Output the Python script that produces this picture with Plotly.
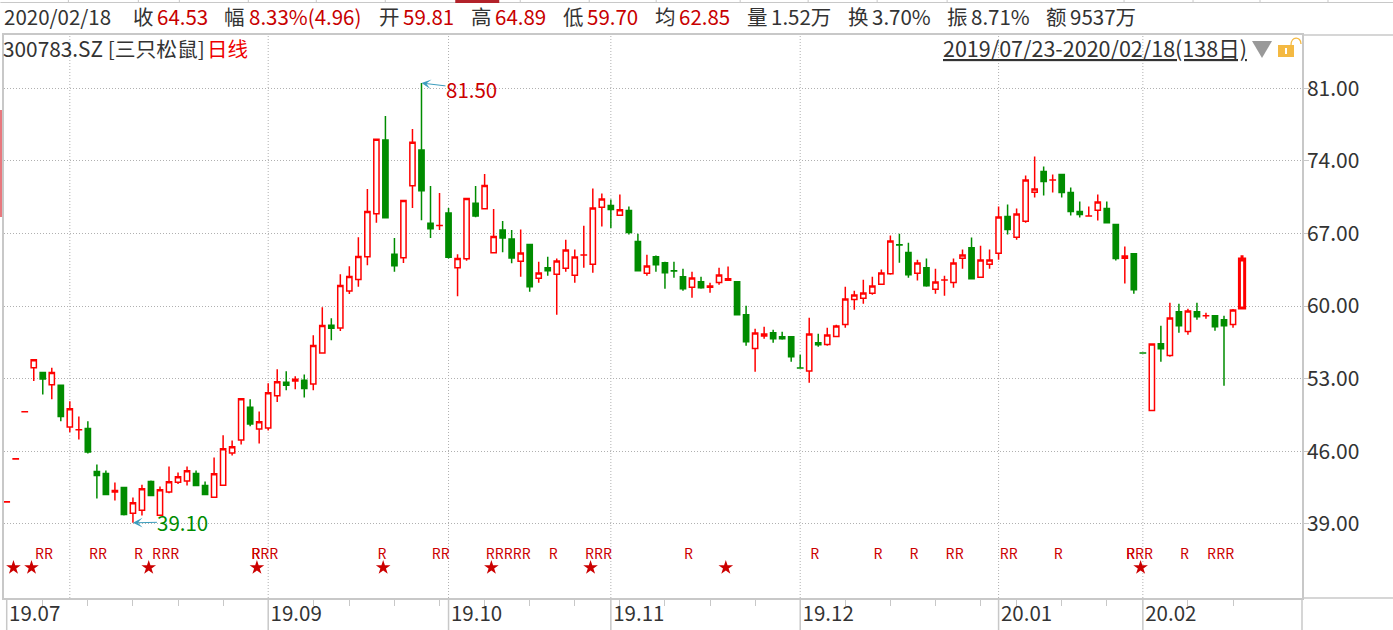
import plotly.graph_objects as go

# ---------- data ----------
opens = [41.11,45.26,49.80,54.06,53.58,52.42,52.35,48.33,48.06,48.20,44.05,43.86,42.06,42.51,40.03,40.32,43.09,39.84,42.06,43.02,
 43.12,43.86,42.70,41.57,42.73,45.82,47.08,50.23,48.14,48.23,51.36,52.64,52.77,52.84,52.49,55.48,58.15,57.89,61.46,62.56,
 64.74,68.89,76.01,65.00,64.65,71.60,75.04,67.99,67.76,68.96,63.68,64.55,69.92,69.38,65.13,67.32,66.45,64.31,65.92,62.67,
 63.70,63.06,63.64,62.96,64.91,64.02,69.52,69.68,68.75,69.20,66.21,63.15,64.76,64.18,63.39,62.83,61.80,62.35,61.80,62.28,
 62.48,62.35,59.16,55.91,57.10,57.43,57.04,57.04,54.03,53.73,56.46,56.30,57.07,58.23,60.64,60.74,61.22,62.09,63.12,65.90,
 65.15,63.15,63.70,61.61,62.50,62.28,64.60,65.63,62.77,64.02,65.08,68.62,66.63,68.17,70.97,72.97,72.15,72.68,70.94,69.11,
 68.68,69.23,69.40,67.85,64.60,65.05,55.47,49.93,56.36,55.24,59.45,57.55,59.45,59.06,59.07,58.68,58.23,59.81]
highs = [41.12,45.27,49.81,54.83,53.58,54.06,52.42,50.81,49.36,48.88,44.73,44.15,42.99,42.57,41.54,42.76,43.18,42.60,44.53,43.95,
 44.53,44.15,43.09,45.40,47.53,47.04,51.07,51.00,49.84,52.55,53.90,53.70,53.22,53.41,57.18,59.89,58.82,63.07,63.84,66.64,
 71.28,76.07,78.32,66.55,70.18,77.07,81.50,71.56,70.89,69.44,65.00,70.37,71.56,72.72,69.35,68.19,67.32,67.37,65.92,64.28,
 64.76,64.57,66.40,65.44,67.75,71.33,70.84,70.26,70.75,69.59,66.98,64.95,64.86,64.28,64.28,63.60,63.31,62.83,62.25,63.70,
 63.80,62.35,60.03,57.81,58.01,57.72,57.52,57.04,55.30,58.87,57.33,57.91,58.20,61.87,61.48,62.54,62.83,63.51,66.79,66.98,
 66.11,64.47,64.57,63.60,62.93,64.57,65.44,66.60,65.82,65.44,69.59,69.78,69.40,72.58,74.41,73.45,72.68,72.68,71.42,70.07,
 69.59,70.75,70.07,67.85,65.73,65.05,55.47,56.33,58.10,60.32,60.23,59.74,60.32,59.36,59.07,59.07,59.71,64.89]
lows = [41.11,45.26,49.80,52.77,51.48,51.00,48.88,47.82,47.14,45.79,41.45,41.83,41.25,39.80,39.10,39.80,41.73,39.84,41.96,42.83,
 42.70,42.70,41.83,41.57,42.73,45.60,46.66,48.40,46.75,48.01,50.74,51.87,51.97,51.19,51.87,55.48,56.70,57.60,61.17,61.85,
 63.94,68.03,68.51,63.30,64.16,69.44,68.28,66.55,67.32,64.58,60.95,64.36,68.57,69.38,65.13,65.19,64.13,62.83,61.38,62.25,
 62.93,59.16,63.31,62.25,63.70,63.22,67.66,67.53,68.75,66.89,63.41,62.93,63.31,61.67,62.73,61.48,60.80,61.67,61.29,62.06,
 62.48,59.16,56.17,53.66,56.85,56.46,56.75,54.63,54.02,52.60,56.07,56.17,57.07,57.91,59.65,60.23,61.09,62.09,63.02,64.18,
 62.73,62.45,61.87,61.19,61.00,61.77,63.60,62.64,62.77,63.60,64.47,66.89,66.40,68.04,70.46,70.65,70.94,70.46,68.72,68.53,
 68.68,68.24,68.04,64.38,62.16,61.19,55.46,49.93,54.63,55.11,57.43,57.23,58.68,58.78,57.62,52.31,57.91,59.70]
closes = [41.12,45.27,49.81,54.83,52.96,53.58,49.36,50.10,48.07,45.92,43.67,41.83,42.22,39.90,41.03,42.38,41.73,42.28,43.05,43.54,
 44.12,42.70,41.83,43.83,46.24,46.43,51.07,48.62,48.85,51.65,52.71,52.35,52.93,52.06,56.19,58.12,57.86,61.98,62.85,64.78,
 69.12,76.07,68.51,63.88,70.18,75.78,71.11,67.45,67.77,64.71,64.58,70.37,68.67,71.63,66.71,66.55,64.62,65.12,61.87,63.19,
 63.41,64.34,65.41,64.73,64.92,69.46,70.33,69.30,69.27,67.08,63.41,63.86,63.99,63.22,63.38,61.67,62.70,61.77,61.93,62.99,
 62.64,59.16,56.56,57.39,57.30,56.85,56.85,55.11,54.02,57.30,56.27,57.20,58.07,60.68,61.06,61.25,61.93,63.19,66.27,65.89,
 63.02,64.15,61.96,62.32,62.51,64.15,64.92,62.64,64.44,64.44,68.59,67.37,68.88,72.16,71.29,72.00,72.16,70.94,69.11,68.82,
 68.69,70.04,68.04,64.57,64.83,61.58,55.46,56.33,55.88,58.84,58.10,59.52,58.97,59.07,58.00,58.10,59.61,64.53]

price_ticks = [39, 46, 53, 60, 67, 74, 81]
month_days = [0, 29, 49, 67, 88, 110, 126]
month_labels = ["19.07", "19.09", "19.10", "19.11", "19.12", "20.01", "20.02"]
grid_days = [7, 29, 49, 67, 88, 110, 126]
week_ticks = [4, 9, 14, 19, 24, 34, 38, 43, 48, 53, 58, 63, 68, 73, 78, 83, 93, 98, 103, 108, 112, 117, 122, 131, 136]
r_days = [3,4,9,10,14,16,17,18,27,27,28,29,41,47,48,53,54,55,56,57,60,64,65,66,75,89,96,100,104,105,110,111,116,124,124,125,126,130,133,134,135]
star_days = [0, 2, 15, 27, 41, 53, 64, 79, 125]
r_level = 35.92
star_level = 34.78

header_items = [
    ("2020/02/18", 4, "#333333"), ("收", 133, "#333333"), ("64.53", 157, "#c80000"),
    ("幅", 224, "#333333"), ("8.33%(4.96)", 249, "#c80000"), ("开", 379, "#333333"), ("59.81", 403, "#c80000"),
    ("高", 471, "#333333"), ("64.89", 495, "#c80000"), ("低", 563, "#333333"), ("59.70", 587, "#c80000"),
    ("均", 655, "#333333"), ("62.85", 679, "#c80000"), ("量", 747, "#333333"), ("1.52万", 771, "#333333"),
    ("换", 848, "#333333"), ("3.70%", 872, "#333333"), ("振", 947, "#333333"), ("8.71%", 971, "#333333"),
    ("额", 1046, "#333333"), ("9537万", 1070, "#333333"),
]
top_marks = [68, 138, 179, 248, 316, 385, 520, 589, 656, 740, 808, 877, 947, 1124, 1193, 1260, 1328]

# ---------- styling ----------
FONT = "Noto Sans CJK SC"
RED = "#ff0000"
GREEN = "#008c00"
GRID = "#b0b0b0"
AXIS = "#c8c8c8"
DOTS = "1px,2px"
L, R, T, B = 2, 1302, 35, 598
W, H = 1393, 630
L_EFF = 3.6

def px(x): return (x - L_EFF) / (R - L_EFF)
def py(y): return (B - y) / (B - T)

days = list(range(len(closes)))
last = len(closes) - 1

def candle(idx, width):
    return go.Candlestick(
        x=[days[i] for i in idx], open=[opens[i] for i in idx], high=[highs[i] for i in idx],
        low=[lows[i] for i in idx], close=[closes[i] for i in idx], whiskerwidth=0,
        increasing=dict(line=dict(color=RED, width=width), fillcolor="#ffffff"),
        decreasing=dict(line=dict(color=GREEN, width=width), fillcolor=GREEN),
        hoverinfo="skip", showlegend=False)

fig = go.Figure()
fig.add_trace(candle(days[:-1], 1.5))
fig.add_trace(candle([last], 3))
fig.add_trace(go.Scatter(x=[d + 0.62 for d in r_days], y=[r_level] * len(r_days), mode="text",
                         text=["R"] * len(r_days), textfont=dict(family=FONT, size=14, color="#cc0000"),
                         hoverinfo="skip", showlegend=False))
fig.add_trace(go.Scatter(x=[d + 0.75 for d in star_days], y=[star_level] * len(star_days), mode="markers",
                         marker=dict(symbol="star", size=11, color="#cc0000", line=dict(width=0)),
                         hoverinfo="skip", showlegend=False))

ann = []
def text(s, x, y, color="#333333", size=21, anchor="left"):
    ann.append(dict(text=s, x=px(x), y=py(y), xref="paper", yref="paper", showarrow=False, xanchor=anchor,
                    yanchor="middle", font=dict(family=FONT, size=size, color=color), borderpad=0, borderwidth=0))

for s, x, c in header_items:
    text(s, x, 16.5, c, 20.5)
text("300783.SZ [三只松鼠]", 3, 47.5, size=20.8)
text("日线", 207, 47.5, "#ee0000", 20.5)
text("<u>2019/07/23-2020/02/18(138日)</u>", 943, 47.5, size=21.5)

for d, label, dx, dy, color in [(46, "81.50", 50, 6, "#cc0000"), (14, "39.10", 50, -1, "#008c00")]:
    ann.append(dict(x=d, y=lows[d] if d == 14 else highs[d], xref="x", yref="y", text=label, ax=dx, ay=dy, axref="pixel", ayref="pixel",
                    showarrow=True, arrowhead=3, arrowsize=1.6, arrowwidth=1, arrowcolor="#3c9dbd", standoff=0,
                    font=dict(family=FONT, size=20.5, color=color), borderpad=0))

shapes = []
# dotted vertical grid
for d in grid_days:
    shapes.append(dict(type="line", xref="x", yref="paper", x0=d, x1=d, y0=0, y1=1, layer="below",
                       line=dict(color=GRID, width=1, dash=DOTS)))
# month dividers beneath the axis
for d in month_days:
    shapes.append(dict(type="line", xref="x", yref="paper", x0=d, x1=d, y0=0, y1=py(630),
                       line=dict(color=AXIS, width=1.5)))
shapes.append(dict(type="line", xref="paper", yref="paper", x0=1, x1=1, y0=0, y1=py(630), line=dict(color=AXIS, width=1.5)))
# rules continuing to the window edge
for yy in (T, B):
    shapes.append(dict(type="line", xref="paper", yref="paper", x0=1, x1=px(W), y0=py(yy), y1=py(yy), line=dict(color=AXIS, width=1.5)))
# chrome
shapes.append(dict(type="line", xref="paper", yref="paper", x0=px(0), x1=px(W), y0=py(2.5), y1=py(2.5), line=dict(color=AXIS, width=1)))
shapes.append(dict(type="rect", xref="paper", yref="paper", x0=px(455), x1=px(499), y0=py(0), y1=py(3), fillcolor="#b2222a", line=dict(width=0)))
for m in top_marks:
    shapes.append(dict(type="line", xref="paper", yref="paper", x0=px(m), x1=px(m), y0=py(0), y1=py(3), line=dict(color=AXIS, width=1)))
shapes.append(dict(type="rect", xref="paper", yref="paper", x0=px(0), x1=px(1.2), y0=py(217), y1=py(110), fillcolor="#d81e28", line=dict(width=0)))
# triangle and lock icons
shapes.append(dict(type="path", xref="paper", yref="paper", fillcolor="#999999", line=dict(width=0),
                   path=f"M {px(1252)} {py(41)} L {px(1272)} {py(41)} L {px(1262)} {py(58)} Z"))
shapes.append(dict(type="rect", xref="paper", yref="paper", x0=px(1278), x1=px(1294), y0=py(57), y1=py(45), fillcolor="#f4b942", line=dict(width=0)))
shapes.append(dict(type="rect", xref="paper", yref="paper", x0=px(1285), x1=px(1287), y0=py(54), y1=py(48), fillcolor="#ffffff", line=dict(width=0)))
shapes.append(dict(type="path", xref="paper", yref="paper", line=dict(color="#f4b942", width=1.3),
                   path=f"M {px(1291)} {py(45)} C {px(1291)} {py(36)}, {px(1301)} {py(36)}, {px(1301)} {py(44)}"))

fig.update_layout(
    width=W, height=H, margin=dict(l=L, r=W - R, t=T, b=H - B), paper_bgcolor="#ffffff", plot_bgcolor="#ffffff",
    boxgap=0.17, showlegend=False, annotations=ann, shapes=shapes,
    font=dict(family=FONT, color="#333333"),
    xaxis=dict(range=[-0.30, 143.65], rangeslider=dict(visible=False), tickmode="array", tickvals=month_days,
               ticktext=month_labels, ticks="", showgrid=False, zeroline=False, showline=True, mirror=True,
               linecolor=AXIS, linewidth=1.5, ticklabelshift=28, ticklabelstandoff=-3,
               tickfont=dict(family=FONT, size=20.5, color="#333333"),
               minor=dict(tickmode="array", tickvals=week_ticks, ticks="outside", ticklen=6, tickcolor=AXIS, tickwidth=1, showgrid=False)),
    yaxis=dict(range=[31.85, 86.13], side="right", tickmode="array", tickvals=price_ticks, tickformat=".2f",
               ticks="outside", ticklen=5, tickcolor=AXIS, tickwidth=1, showgrid=True, gridcolor=GRID, griddash=DOTS,
               gridwidth=1, zeroline=False, showline=True, mirror=True, linecolor=AXIS, linewidth=1.5,
               ticklabelstandoff=-6, tickfont=dict(family=FONT, size=21, color="#333333")),
)

fig.write_html("out.html", config=dict(displayModeBar=False),
               post_script="document.body.style.margin='0';document.body.style.overflow='hidden';")
